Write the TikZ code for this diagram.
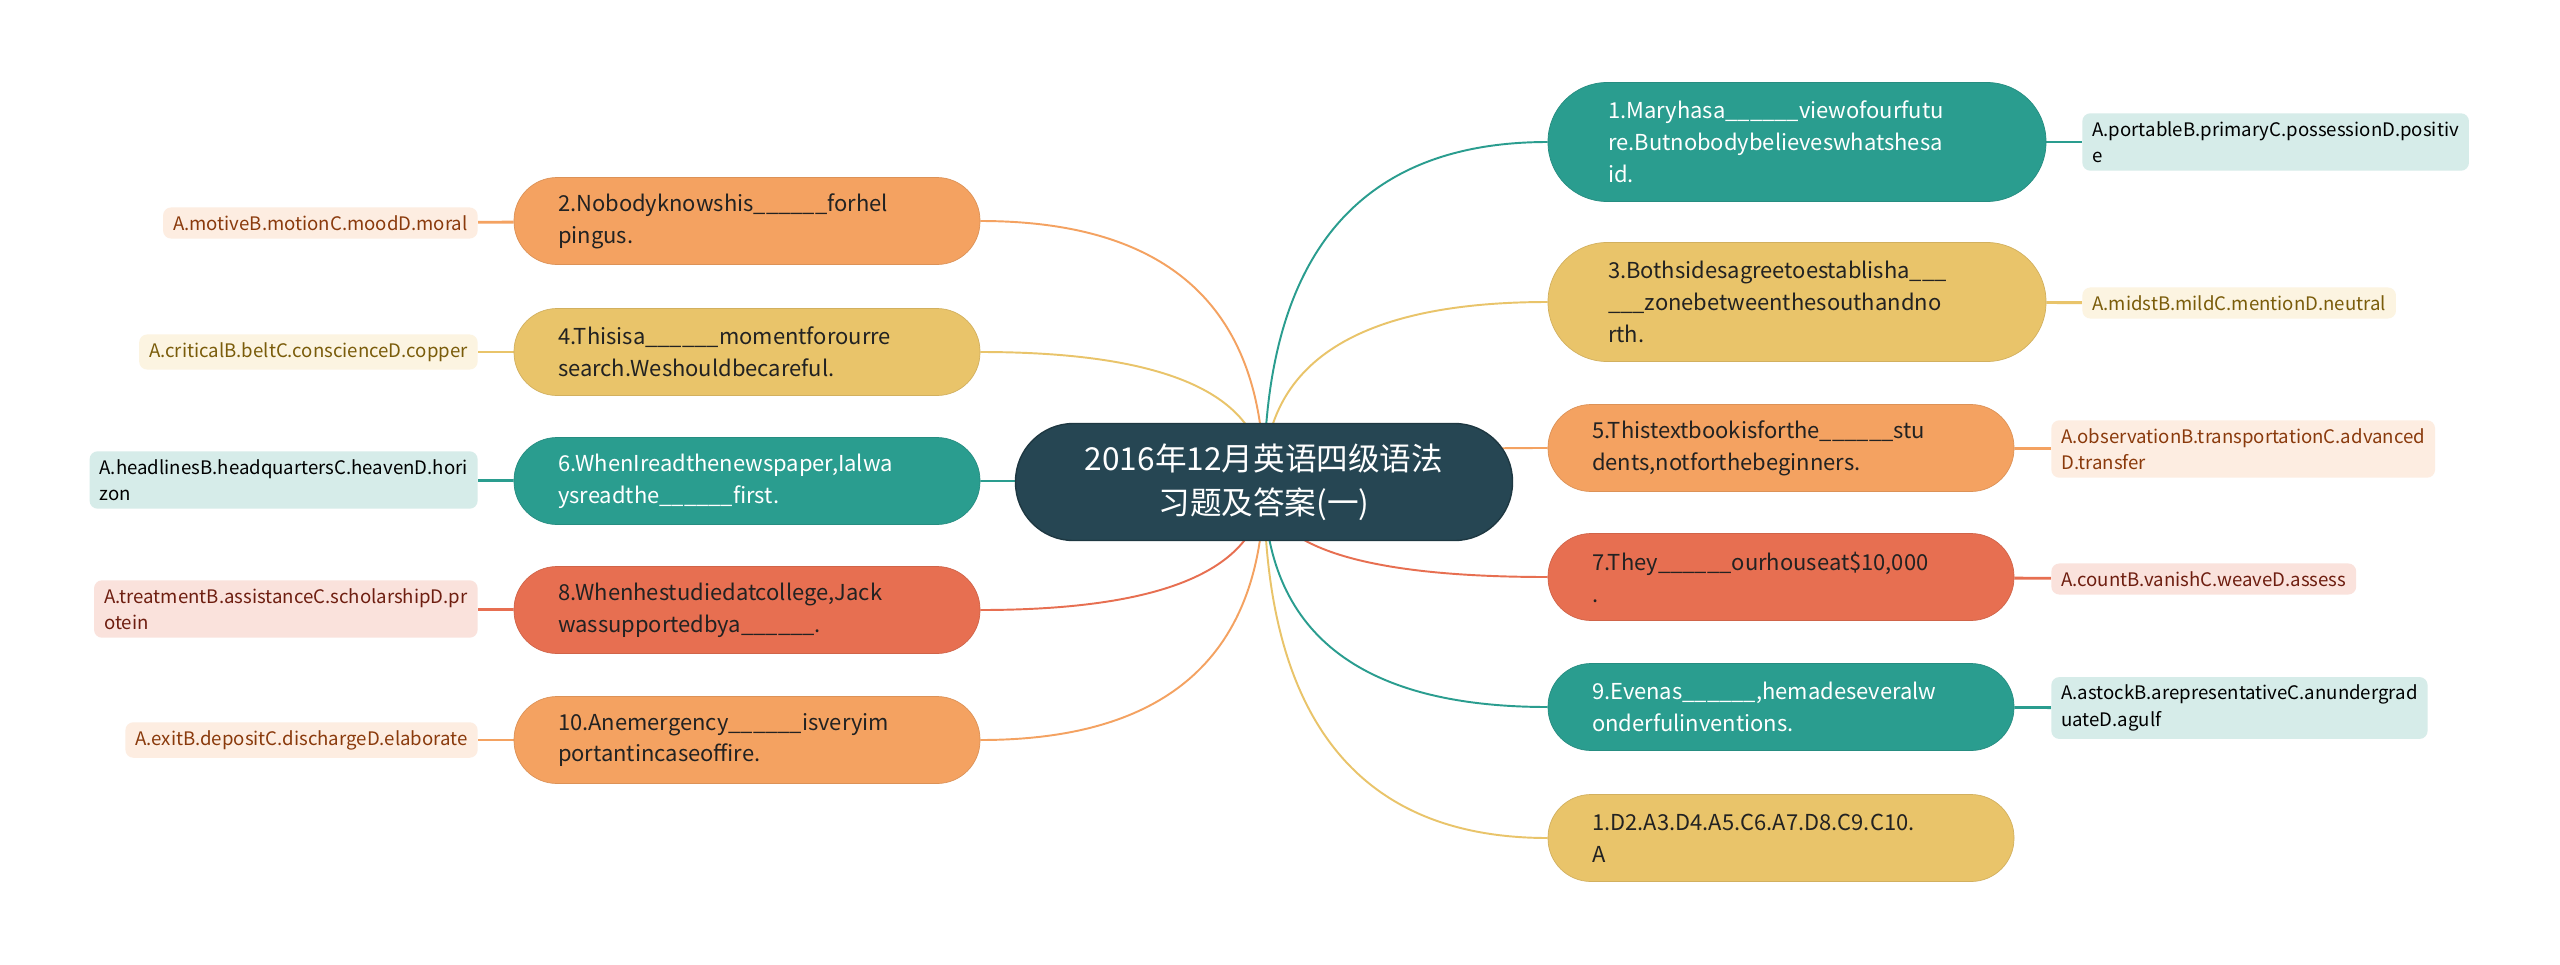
\documentclass[tikz,border=0pt]{standalone}
\usepackage{fontspec}
\setmainfont{Noto Sans CJK SC}
\usetikzlibrary{calc, backgrounds}

\definecolor{rootc}{HTML}{264653}
\definecolor{tealc}{HTML}{2A9D8F}
\definecolor{yellc}{HTML}{E9C46A}
\definecolor{orngc}{HTML}{F4A261}
\definecolor{redc}{HTML}{E76F51}
\definecolor{tealbg}{HTML}{D6ECE9}
\definecolor{yellbg}{HTML}{FCF4E1}
\definecolor{orngbg}{HTML}{FDEDE1}
\definecolor{redbg}{HTML}{FAE2DC}
\definecolor{yelltx}{HTML}{7A5C0A}
\definecolor{orngtx}{HTML}{8A3A0C}
\definecolor{redtx}{HTML}{6E1E10}
\definecolor{darktx}{HTML}{222222}

\newlength{\pxu}
\setlength{\pxu}{0.02cm}

\tikzset{
  rootbox/.style={fill=rootc, draw=rootc!80!black, line width=0.8pt, text=white,
    rounded corners=58\pxu, minimum width=497\pxu, minimum height=117\pxu,
    align=center, font=\fontsize{18pt}{25pt}\selectfont},
  bigbox/.style={rounded corners=59\pxu, minimum height=119\pxu, text width=378\pxu,
    inner xsep=60\pxu, align=left, font=\fontsize{12.5pt}{18.2pt}\selectfont},
  smallbox/.style={bigbox, rounded corners=43\pxu, minimum height=87\pxu, inner xsep=44\pxu},
  leafbox/.style={rounded corners=8\pxu, inner xsep=10\pxu, inner ysep=8\pxu,
    align=left, font=\fontsize{10.6pt}{15pt}\selectfont},
  tealnode/.style={fill=tealc, draw=tealc!90!black, text=white},
  yellnode/.style={fill=yellc, draw=yellc!90!black, text=darktx},
  orngnode/.style={fill=orngc, draw=orngc!90!black, text=darktx},
  rednode/.style={fill=redc, draw=redc!90!black, text=darktx},
  tealleaf/.style={fill=tealbg, text=black},
  yellleaf/.style={fill=yellbg, text=yelltx},
  orngleaf/.style={fill=orngbg, text=orngtx},
  redleaf/.style={fill=redbg, text=redtx},
  link/.style={line width=1.1pt},
  leaflink/.style={line width=1.6pt}
}

% curve from the root centre to one question
\newcommand{\rootlink}[3]{%
  \draw[link, #1] (root.center)
    .. controls ($(root.center)!2/3!(root.center |- #2.#3)$)
    and ($(#2.#3)!2/3!(root.center |- #2.#3)$) .. (#2.#3);}

\begin{document}
\begin{tikzpicture}[x=\pxu, y=-\pxu]
\useasboundingbox (0,0) rectangle (2560,964);

\node[rootbox] (root) at (1264,482) {2016年12月英语四级语法\\习题及答案(一)};

% right side
\node[bigbox, tealnode] (q1) at (1797,142) {1.Maryhasa\_\_\_\_\_\_viewofourfutu\\re.Butnobodybelieveswhatshesa\\id.};
\node[leafbox, tealleaf, anchor=west] (a1) at (2082,142) {A.portableB.primaryC.possessionD.positiv\\e};
\node[bigbox, yellnode] (q3) at (1797,302) {3.Bothsidesagreetoestablisha\_\_\_\\\_\_\_zonebetweenthesouthandno\\rth.};
\node[leafbox, yellleaf, anchor=west] (a3) at (2082,303) {A.midstB.mildC.mentionD.neutral};
\node[smallbox, orngnode] (q5) at (1781,448) {5.Thistextbookisforthe\_\_\_\_\_\_stu\\dents,notforthebeginners.};
\node[leafbox, orngleaf, anchor=west] (a5) at (2051,449) {A.observationB.transportationC.advanced\\D.transfer};
\node[smallbox, rednode] (q7) at (1781,577) {7.They\_\_\_\_\_\_ourhouseat\$10,000\\.};
\node[leafbox, redleaf, anchor=west] (a7) at (2051,579) {A.countB.vanishC.weaveD.assess};
\node[smallbox, tealnode] (q9) at (1781,707) {9.Evenas\_\_\_\_\_\_,hemadeseveralw\\onderfulinventions.};
\node[leafbox, tealleaf, anchor=west] (a9) at (2051,708) {A.astockB.arepresentativeC.anundergrad\\uateD.agulf};
\node[smallbox, yellnode] (key) at (1781,838) {1.D2.A3.D4.A5.C6.A7.D8.C9.C10.\\A};

% left side
\node[smallbox, orngnode] (q2) at (747,221) {2.Nobodyknowshis\_\_\_\_\_\_forhel\\pingus.};
\node[leafbox, orngleaf, anchor=east] (a2) at (478,223) {A.motiveB.motionC.moodD.moral};
\node[smallbox, yellnode] (q4) at (747,352) {4.Thisisa\_\_\_\_\_\_momentforourre\\search.Weshouldbecareful.};
\node[leafbox, yellleaf, anchor=east] (a4) at (478,352) {A.criticalB.beltC.conscienceD.copper};
\node[smallbox, tealnode] (q6) at (747,481) {6.WhenIreadthenewspaper,Ialwa\\ysreadthe\_\_\_\_\_\_first.};
\node[leafbox, tealleaf, anchor=east] (a6) at (478,480) {A.headlinesB.headquartersC.heavenD.hori\\zon};
\node[smallbox, rednode] (q8) at (747,610) {8.Whenhestudiedatcollege,Jack\\wassupportedbya\_\_\_\_\_\_.};
\node[leafbox, redleaf, anchor=east] (a8) at (478,609) {A.treatmentB.assistanceC.scholarshipD.pr\\otein};
\node[smallbox, orngnode] (q10) at (747,740) {10.Anemergency\_\_\_\_\_\_isveryim\\portantincaseoffire.};
\node[leafbox, orngleaf, anchor=east] (a10) at (478,740) {A.exitB.depositC.dischargeD.elaborate};

\begin{pgfonlayer}{background}
\fill[white] (0,0) rectangle (2560,964);
\rootlink{tealc}{q1}{west}
\rootlink{yellc}{q3}{west}
\rootlink{orngc}{q5}{west}
\rootlink{redc}{q7}{west}
\rootlink{tealc}{q9}{west}
\rootlink{yellc}{key}{west}
\rootlink{orngc}{q2}{east}
\rootlink{yellc}{q4}{east}
\rootlink{tealc}{q6}{east}
\rootlink{redc}{q8}{east}
\rootlink{orngc}{q10}{east}
\draw[leaflink, tealc] (q1) -- (a1);
\draw[leaflink, yellc] (q3) -- (a3);
\draw[leaflink, orngc] (q5) -- (a5);
\draw[leaflink, redc] (q7) -- (a7);
\draw[leaflink, tealc] (q9) -- (a9);
\draw[leaflink, orngc] (q2) -- (a2);
\draw[leaflink, yellc] (q4) -- (a4);
\draw[leaflink, tealc] (q6) -- (a6);
\draw[leaflink, redc] (q8) -- (a8);
\draw[leaflink, orngc] (q10) -- (a10);
\end{pgfonlayer}
\end{tikzpicture}
\end{document}
